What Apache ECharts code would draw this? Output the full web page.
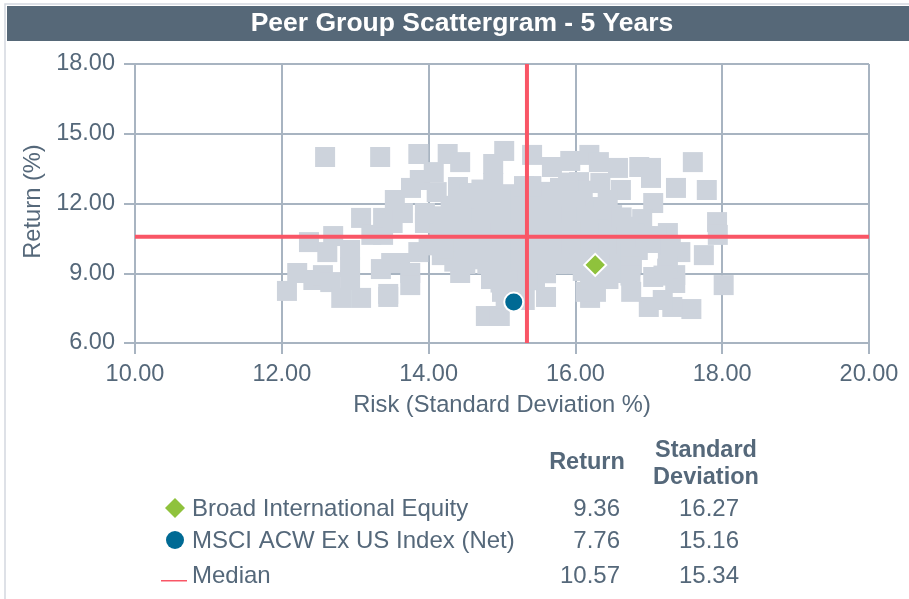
<!DOCTYPE html>
<html><head><meta charset="utf-8">
<style>html,body{margin:0;padding:0;background:#fff}#c{width:909px;height:599px}</style>
<script src="https://cdn.jsdelivr.net/npm/echarts@6/dist/echarts.min.js"></script>
</head><body><div id="c"></div>
<script>
const titleText = "Peer Group Scattergram - 5 Years";
const xTicks = [10,12,14,16,18,20];
const yTicks = [6,9,12,15,18];
const peers = [
[12.07,8.24],[12.21,9.01],[12.37,10.34],[12.70,10.60],[12.62,9.91],[12.43,8.71],[12.56,8.92],[12.66,8.62],[12.93,10.0],[12.93,9.27],[12.93,8.71],[12.81,7.94],[13.08,7.94],[13.08,11.38],[13.22,10.65],[13.38,10.65],[13.38,11.38],[13.51,11.16],[13.65,11.59],[13.54,12.15],[13.76,12.67],[13.88,13.01],[14.07,13.35],[14.11,12.49],[12.59,14.0],[13.34,14.0],[13.86,14.13],[14.26,14.13],[14.43,13.78],[13.35,9.18],[13.49,9.44],[13.61,9.44],[13.45,8.11],[13.45,7.98],[13.75,9.01],[13.75,8.49],[13.86,9.91],[13.95,11.16],[13.95,11.59],[14.18,9.78],[14.43,9.01],[14.78,7.16],[14.97,7.16],[14.40,12.71],[14.56,12.45],[14.88,12.88],[15.03,14.26],[14.88,13.7],
[15.41,14.09],[15.68,13.57],[15.93,13.83],[16.19,14.09],[16.32,13.78],[16.58,13.53],[16.87,13.57],[17.03,13.53],[17.03,13.1],[17.60,13.78],[17.37,12.67],[17.79,12.58],[17.93,11.2],[17.94,10.65],[17.75,9.78],[18.02,8.49],[17.58,7.46],[17.32,7.55],[17.0,7.55],[16.76,8.2],[17.06,8.84],[17.36,8.92],[17.43,9.91],[17.26,9.44],[17.36,8.58],[17.19,7.85],[17.06,12.02],[16.91,11.33],[17.26,10.73],[17.07,10.3],[16.62,12.58],[16.34,12.88],[16.05,12.92],[15.79,12.67],[16.2,7.94],[15.6,7.98],[15.31,7.85],[16.14,8.2],[16.54,9.01],[16.77,9.44],[16.5,11.5],[16.23,11.85],[16.38,11.72],[16.63,10.99],
[14.3,11.9],[14.35,11.2],[14.28,10.5],[14.4,10.0],[14.6,11.7],[14.62,11.0],[14.55,10.3],[14.7,9.6],[14.85,12.1],[14.9,11.4],[14.83,10.7],[14.9,10.0],[14.95,9.3],[14.98,8.6],[15.05,7.9],[15.1,12.4],[15.15,11.7],[15.08,11.0],[15.15,10.3],[15.12,9.6],[15.2,8.9],[15.25,8.3],[15.33,12.2],[15.38,11.5],[15.35,10.8],[15.42,10.1],[15.38,9.4],[15.45,8.7],[15.55,12.5],[15.62,11.8],[15.6,11.1],[15.65,10.4],[15.58,9.7],[15.6,9.0],[15.8,11.5],[15.85,10.8],[15.82,10.1],[15.9,9.4],[16.05,11.1],[16.1,10.4],[16.0,9.7],[16.1,9.1],[16.3,10.9],[16.35,10.2],[16.27,9.6],[16.3,8.9],[16.55,10.4],[16.55,9.8],[16.8,10.7],[16.85,10.0],[14.72,12.6],[14.15,10.7],[14.0,10.2],[14.35,9.5],
[14.45,12.2],[14.7,12.2],[15.0,12.2],[15.25,12.25],[15.5,12.2],[15.75,12.2],[16.0,12.2],[15.3,12.75],[15.4,12.75],
[14.2,11.45],[14.45,11.45],[14.75,11.45],[15.0,11.45],[15.25,11.45],[15.5,11.45],[15.7,11.45],[15.95,11.45],[16.15,11.45],
[14.2,10.75],[14.45,10.75],[14.7,10.75],[14.98,10.75],[15.2,10.75],[15.5,10.75],[15.75,10.75],[16.0,10.75],[16.2,10.75],[16.45,10.75],[16.65,10.75],
[14.2,10.05],[14.5,10.05],[14.75,10.05],[15.0,10.05],[15.25,10.05],[15.5,10.05],[15.7,10.05],[15.95,10.05],[16.2,10.05],[16.45,10.05],[16.7,10.05],
[14.5,9.4],[14.8,9.4],[15.05,9.4],[15.25,9.4],[15.5,9.4],[15.75,9.4],[16.05,9.4],[16.45,9.4],[16.6,9.4],
[14.85,8.75],[15.1,8.75],[15.35,8.75],[16.2,8.75],[16.45,8.75],[15.0,8.2],[15.15,8.2],[16.28,8.2],
[16.44,12.15],[16.1,12.55],[15.9,12.9],[16.7,10.9],[16.75,9.9],[16.95,10.6],[17.1,10.6],[17.3,10.2],[16.75,9.3],[16.75,8.9],[16.63,11.4],[16.72,11.0],[17.25,9.2],[17.2,8.9]
];
const names = ["Broad International Equity","MSCI ACW Ex US Index (Net)","Median"];
const returns = [9.36,7.76,10.57];
const stdDevs = [16.27,15.16,15.34];
const colTitles = ["Return","Standard\nDeviation"];
const axisNames = ["Risk (Standard Deviation %)","Return (%)"];
const xRange = [10,20], yRange = [6,18];

const ink="#55687a", gridC="#a8b4c1", red="#f95666", gray="#cdd3dc", green="#8fc23c", blue="#006a94";
const font="'Liberation Sans',Arial,sans-serif";
const chart = echarts.init(document.getElementById('c'),null,{renderer:'canvas'});
const rowY=[509,541,576];
const graphics=[
 {type:'rect',shape:{x:5,y:4,width:906,height:597},style:{fill:'none',stroke:'#d3d8df',lineWidth:1.5},silent:true,z:0},
 {type:'rect',shape:{x:7,y:6,width:902,height:35},style:{fill:'#566878'},z:1},
 {type:'text',x:462,y:24,style:{text:titleText,fill:'#fff',font:'bold 26.5px '+font,align:'center',verticalAlign:'middle'},z:2},
 {type:'text',x:587,y:463,style:{text:colTitles[0],fill:ink,font:'bold 23.5px '+font,align:'center',verticalAlign:'middle'}},
 {type:'text',x:706,y:464,style:{text:colTitles[1],fill:ink,font:'bold 23.5px '+font,align:'center',verticalAlign:'middle',lineHeight:27}},
 {type:'polygon',shape:{points:[[175,498],[185,508],[175,518],[165,508]]},style:{fill:green}},
 {type:'circle',shape:{cx:175,cy:540,r:9},style:{fill:blue}},
 {type:'rect',shape:{x:161,y:580,width:26,height:1.5},style:{fill:red}}
];
names.forEach((n,i)=>{
 graphics.push({type:'text',x:192,y:rowY[i],style:{text:n,fill:ink,font:'24px '+font,verticalAlign:'middle'}});
 graphics.push({type:'text',x:620,y:rowY[i],style:{text:returns[i].toFixed(2),fill:ink,font:'24px '+font,align:'right',verticalAlign:'middle'}});
 graphics.push({type:'text',x:739,y:rowY[i],style:{text:stdDevs[i].toFixed(2),fill:ink,font:'24px '+font,align:'right',verticalAlign:'middle'}});
});
const axisBase={
 splitLine:{show:true,lineStyle:{color:gridC,width:2}},
 axisLine:{show:true,onZero:false,lineStyle:{color:gridC,width:2}},
 axisTick:{show:true,length:11,lineStyle:{color:gridC,width:2}},
 nameLocation:'middle',
 nameTextStyle:{color:ink,fontSize:23.7,fontFamily:font},
};
chart.setOption({
 animation:false,
 backgroundColor:'#fff',
 grid:{left:135,top:64,width:734,height:279,containLabel:false},
 xAxis:{...axisBase,type:'value',min:xRange[0],max:xRange[1],interval:xTicks[1]-xTicks[0],name:axisNames[0],nameGap:50,
  axisLabel:{color:ink,fontSize:23.5,fontFamily:font,margin:20,formatter:v=>v.toFixed(2)}},
 yAxis:{...axisBase,type:'value',min:yRange[0],max:yRange[1],interval:yTicks[1]-yTicks[0],name:axisNames[1],nameGap:88,
  nameTextStyle:{color:ink,fontSize:23.7,fontFamily:font,padding:[0,0,0,4]},
  axisLabel:{color:ink,fontSize:23.5,fontFamily:font,margin:20,padding:[2,0,0,0],formatter:v=>v.toFixed(2)}},
 graphic:graphics,
 series:[
  {type:'scatter',data:peers,symbol:'rect',symbolSize:20,itemStyle:{color:gray,opacity:1},z:2,silent:true},
  {type:'line',data:[[xRange[0],returns[2]],[xRange[1],returns[2]]],symbol:'none',lineStyle:{color:red,width:4},z:3,clip:false},
  {type:'line',data:[[stdDevs[2],yRange[0]],[stdDevs[2],yRange[1]]],symbol:'none',lineStyle:{color:red,width:4},z:3,clip:false},
  {type:'scatter',data:[[stdDevs[0],returns[0]]],symbol:'diamond',symbolSize:22,itemStyle:{color:green,opacity:1,borderColor:'#fff',borderWidth:2},z:4},
  {type:'scatter',data:[[stdDevs[1],returns[1]]],symbol:'circle',symbolSize:19,itemStyle:{color:blue,opacity:1,borderColor:'#fff',borderWidth:2},z:4}
 ]
});
</script></body></html>
